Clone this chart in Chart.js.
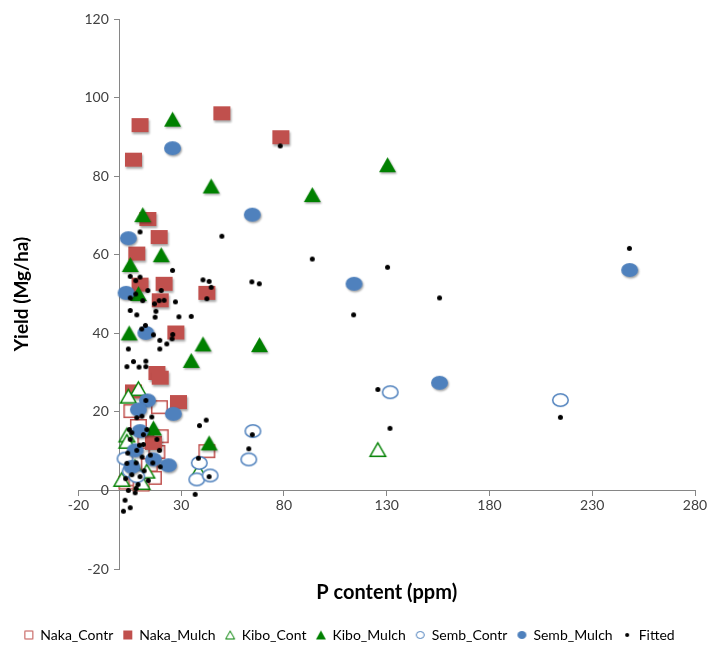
<!DOCTYPE html>
<html>
<head>
<meta charset="utf-8">
<script src="https://cdn.jsdelivr.net/npm/chart.js@4.4.1/dist/chart.umd.min.js"></script>
<style>
  body { margin: 0; background: #fff; }
  #chart { display: block; }
</style>
</head>
<body>
<canvas id="chart" width="713" height="648"></canvas>
<script>
// values
const xTicks = [-20, 30, 80, 130, 180, 230, 280];

const nakaContrX = [6.0, 19.4, 9.2, 19.8, 18.2, 42.5, 16.5, 3.6, 8.4, 12.8, 14.5, 10.5];
const nakaContrY = [20.2, 21.2, 16.4, 13.8, 9.8, 10.0, 3.2, 2.0, 2.8, 12.4, 6.5, 1.5];

const nakaMulchX = [10.0, 6.8, 49.8, 78.5, 13.8, 19.3, 8.4, 10.0, 21.7, 19.8, 42.5, 27.4, 18.2, 19.8, 6.8, 28.7, 16.5];
const nakaMulchY = [93.0, 84.2, 96.0, 89.9, 69.1, 64.5, 60.3, 52.4, 52.6, 48.4, 50.3, 40.2, 29.9, 28.7, 25.2, 22.5, 12.1];

const kiboContX = [9.2, 4.3, 3.6, 3.6, 13.3, 1.1, 38.4, 125.7, 7.5, 11.0];
const kiboContY = [25.9, 24.0, 14.1, 12.5, 4.9, 2.8, 4.9, 10.4, 6.0, 2.0];

const kiboMulchX = [25.8, 130.4, 44.6, 93.8, 11.3, 20.3, 5.2, 9.2, 4.7, 40.6, 68.1, 34.9, 16.5, 43.6];
const kiboMulchY = [94.5, 82.9, 77.5, 75.3, 70.2, 60.0, 57.5, 50.1, 40.1, 37.3, 37.1, 33.1, 15.9, 12.1];

const sembContrX = [131.7, 214.5, 64.9, 62.9, 38.8, 37.6, 44.1, 2.7, 5.2, 8.4];
const sembContrY = [25.0, 23.0, 15.1, 7.9, 7.0, 2.8, 3.8, 8.1, 4.9, 3.6];

const sembMulchX = [25.8, 64.6, 4.3, 3.2, 12.8, 114.1, 248.2, 155.7, 13.6, 9.2, 26.2, 10.0, 7.6, 16.5, 23.8, 6.0];
const sembMulchY = [87.1, 70.2, 64.2, 50.3, 40.1, 52.6, 56.1, 27.4, 22.9, 20.6, 19.5, 15.1, 10.2, 7.9, 6.4, 6.0];

const fittedX = [78.2, 10.0, 49.8, 93.8, 130.4, 113.9, 155.7, 248.1, 125.7, 131.6, 214.5, 38.9, 42.2, 64.6, 62.9, 38.4, 43.6, 36.8, 64.4, 68.0,
  25.8, 5.2, 10.0, 7.9, 13.8, 20.3, 7.9, 5.2, 11.3, 17.0, 19.3, 21.7, 40.6, 43.6, 44.6, 42.5, 27.2, 5.2, 17.7, 8.4,
  17.3, 28.9, 34.9, 10.8, 12.6, 16.5, 25.9, 25.6, 19.6, 23.0, 19.6, 4.3, 6.8, 9.5, 12.8, 12.8, 3.6,
  12.8, 10.9, 8.4, 15.7, 4.8, 6.0, 5.2, 11.6, 13.3, 18.2, 9.7, 11.6, 8.4, 19.4, 3.6, 8.1, 16.2, 19.8,
  4.3, 8.1, 7.6, 2.7, 5.2, 1.9, 6.0, 10.0, 12.0, 14.0, 3.0, 9.0, 11.0, 15.0, 4.0];
const fittedY = [87.7, 65.8, 64.7, 58.9, 56.8, 44.7, 49.0, 61.6, 25.7, 15.8, 18.6, 16.5, 17.9, 14.2, 10.6, 8.2, 3.5, -1.0, 53.1, 52.6,
  56.0, 54.5, 54.3, 53.4, 50.9, 50.9, 50.0, 49.0, 48.3, 47.5, 48.3, 48.4, 53.6, 53.2, 51.7, 48.8, 48.0, 45.8, 45.6, 44.7,
  44.1, 44.2, 44.3, 41.1, 42.0, 39.6, 39.7, 38.6, 38.2, 37.3, 36.0, 36.0, 32.8, 31.4, 32.9, 31.5, 31.5,
  22.9, 18.9, 18.5, 18.7, 15.5, 14.7, 13.0, 14.2, 15.5, 13.0, 11.5, 11.7, 10.2, 10.2, 6.9, 7.0, 7.0, 6.0,
  0.0, 0.5, -0.6, -2.5, -4.4, -5.3, 4.0, 3.5, 5.0, 2.5, 3.0, 1.5, 8.5, 9.0, 9.5];

const RED = '#c0504d';
const GREEN = '#008000';
const BLUE = '#4f81bd';
const FONT = 'Lato, "Liberation Sans", sans-serif';

// marker pictures, Excel style (slightly wide, with a soft shadow on the filled ones)
const makeMarker = (shape, w, h, fill, stroke, lw, shadow) => {
    const pad = 4;
    const c = document.createElement('canvas');
    c.width = w + pad * 2;
    c.height = h + pad * 2;
    const g = c.getContext('2d');
    const inset = stroke ? lw / 2 : 0;
    const x0 = pad + inset, y0 = pad + inset, ww = w - inset * 2, hh = h - inset * 2;
    g.beginPath();
    if (shape === 'rect') {
        g.rect(x0, y0, ww, hh);
    } else if (shape === 'tri') {
        g.moveTo(x0 + ww / 2, y0);
        g.lineTo(x0 + ww, y0 + hh);
        g.lineTo(x0, y0 + hh);
        g.closePath();
    } else {
        g.ellipse(x0 + ww / 2, y0 + hh / 2, ww / 2, hh / 2, 0, 0, Math.PI * 2);
    }
    if (shadow) {
        g.shadowColor = 'rgba(0,0,0,0.35)';
        g.shadowBlur = 2;
        g.shadowOffsetX = 1;
        g.shadowOffsetY = 1.5;
    }
    g.fillStyle = fill;
    g.fill();
    g.shadowColor = 'transparent';
    if (stroke) {
        g.lineWidth = lw;
        g.strokeStyle = stroke;
        g.stroke();
    }
    return c;
};

const icons = [
    makeMarker('rect', 17, 14, '#fff', RED, 1.5, false),
    makeMarker('rect', 17, 14, RED, null, 0, true),
    makeMarker('tri', 17, 15, '#fff', GREEN, 1.5, false),
    makeMarker('tri', 17, 15, GREEN, null, 0, true),
    makeMarker('ellipse', 17, 14, '#fff', BLUE, 1.5, false),
    makeMarker('ellipse', 17, 14, BLUE, null, 0, true),
    makeMarker('ellipse', 5, 5, '#000', null, 0, false)
];

const legendIcons = [
    makeMarker('rect', 9, 9, '#fff', RED, 1, false),
    makeMarker('rect', 9, 9, RED, null, 0, false),
    makeMarker('tri', 10, 9, '#fff', GREEN, 1, false),
    makeMarker('tri', 10, 9, GREEN, null, 0, false),
    makeMarker('ellipse', 9, 8, '#fff', BLUE, 1, false),
    makeMarker('ellipse', 9, 8, BLUE, null, 0, false),
    makeMarker('ellipse', 4, 4, '#000', null, 0, false)
];

const toPoints = (xs, ys) => xs.map((x, i) => ({ x: x, y: ys[i] }));

const series = [
    ['Naka_Contr', nakaContrX, nakaContrY],
    ['Naka_Mulch', nakaMulchX, nakaMulchY],
    ['Kibo_Cont', kiboContX, kiboContY],
    ['Kibo_Mulch', kiboMulchX, kiboMulchY],
    ['Semb_Contr', sembContrX, sembContrY],
    ['Semb_Mulch', sembMulchX, sembMulchY],
    ['Fitted', fittedX, fittedY]
];

const datasets = series.map((s, i) => ({
    label: s[0],
    data: toPoints(s[1], s[2]),
    pointStyle: icons[i],
    pointRadius: 8,
    xAxisID: 'x',
    yAxisID: 'y',
    order: series.length - i   // later series sit on top, as in the original
}));

const tickFont = { family: FONT, size: 14 };
const legendFont = { family: FONT, size: 14 };
const yTitleFont = { family: FONT, size: 19, weight: 'bold' };
const xTitleFont = { family: FONT, size: 20, weight: 'bold' };

new Chart(document.getElementById('chart'), {
    type: 'scatter',
    data: { datasets: datasets },
    options: {
        responsive: false,
        animation: false,
        devicePixelRatio: 1,
        layout: { padding: { left: 4, right: 18, top: 19, bottom: -4 } },
        scales: {
            x: {
                type: 'linear',
                position: { y: 0 },
                min: -20,
                max: 280,
                afterBuildTicks: scale => {
                    scale.ticks = xTicks.map(v => ({ value: v }));
                },
                grid: { display: true, drawOnChartArea: false, drawTicks: true, tickLength: 5, color: '#868686' },
                border: { display: true, color: '#868686' },
                ticks: { font: tickFont, color: '#404040', padding: 2, autoSkip: false, maxRotation: 0 }
            },
            y: {
                type: 'linear',
                position: { x: 0 },
                min: -20,
                max: 120,
                ticks: {
                    stepSize: 20,
                    font: tickFont,
                    color: '#404040',
                    // labels of a value-positioned axis sit on the line, so push them left
                    callback: v => v + '   '
                },
                grid: { display: true, drawOnChartArea: false, drawTicks: true, tickLength: 5, color: '#868686' },
                border: { display: true, color: '#868686' }
            },
            xTitle: {
                type: 'linear',
                axis: 'x',
                position: 'bottom',
                grid: { display: false, drawTicks: false },
                border: { display: false },
                ticks: { display: false },
                title: { display: true, text: 'P content (ppm)', font: xTitleFont, color: '#000', padding: { top: 12, bottom: 13 } }
            },
            yTitle: {
                type: 'linear',
                axis: 'y',
                position: 'left',
                grid: { display: false, drawTicks: false },
                border: { display: false },
                ticks: { display: false },
                title: { display: true, text: 'Yield (Mg/ha)', font: yTitleFont, color: '#000', padding: { top: 6.6, bottom: 45 } }
            }
        },
        plugins: {
            tooltip: { enabled: false },
            legend: {
                position: 'bottom',
                labels: {
                    usePointStyle: true,
                    boxWidth: 9,
                    padding: 10,
                    font: legendFont,
                    color: '#262626',
                    generateLabels: chart => chart.data.datasets.map((ds, i) => ({
                        text: ds.label,
                        pointStyle: legendIcons[i],
                        datasetIndex: i,
                        hidden: false,
                        lineWidth: 0,
                        fillStyle: 'transparent',
                        strokeStyle: 'transparent'
                    }))
                }
            }
        }
    }
});
</script>
</body>
</html>
